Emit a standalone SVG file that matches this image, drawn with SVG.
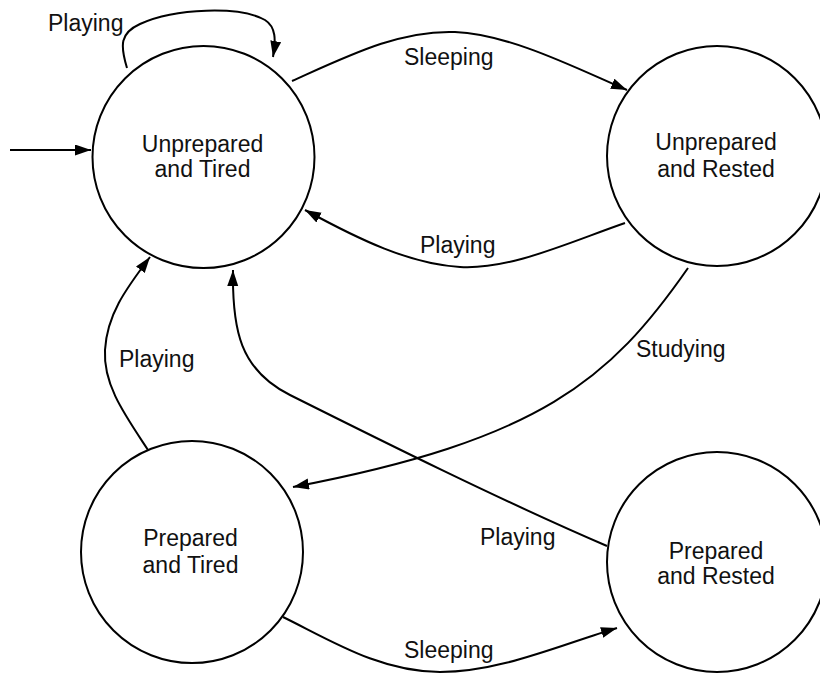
<svg xmlns="http://www.w3.org/2000/svg" width="820" height="673" viewBox="0 0 820 673">
  <defs>
    <marker id="arrow" markerUnits="userSpaceOnUse" markerWidth="17" markerHeight="12" refX="16" refY="5.5" orient="auto">
      <path d="M0,0 L16,5.5 L0,11 z" fill="#000"/>
    </marker>
  </defs>
  <style>
    .state circle { fill: #fff; stroke: #000; stroke-width: 2; }
    .state text, .label { font-family: "Liberation Sans", Arial, sans-serif; font-size: 23px; fill: #111; }
    .state text { text-anchor: middle; }
    .edge { fill: none; stroke: #000; stroke-width: 2; marker-end: url(#arrow); }
  </style>
  <rect width="820" height="673" fill="#fff"/>

  <g id="connectors">
    <!-- start arrow -->
    <path class="edge" d="M10,150 L91,150"/>
    <!-- self loop on Unprepared and Tired -->
    <path class="edge" d="M127,68 C120,45 120,33 140,24 C175,8 240,6 265,20 C276,27 276,40 273,57"/>
    <text class="label" x="48" y="31">Playing</text>
    <!-- Unprepared and Tired -> Unprepared and Rested -->
    <path class="edge" d="M292,81 C350,55 400,30 455,32 C510,34 580,70 627,90"/>
    <text class="label" x="404" y="65">Sleeping</text>
    <!-- Unprepared and Rested -> Unprepared and Tired -->
    <path class="edge" d="M625,223 C570,242 510,270 460,267 C410,264 360,240 305,210"/>
    <text class="label" x="420" y="253">Playing</text>
    <!-- Unprepared and Rested -> Prepared and Tired -->
    <path class="edge" d="M688,268 C610,380 540,440 293,487"/>
    <text class="label" x="636" y="357">Studying</text>
    <!-- Prepared and Rested -> Unprepared and Tired -->
    <path class="edge" d="M607,546 C500,500 380,440 290,395 C240,370 232,330 233,270"/>
    <text class="label" x="480" y="545">Playing</text>
    <!-- Prepared and Tired -> Unprepared and Tired -->
    <path class="edge" d="M148,450 C125,415 103,385 105,350 C107,315 125,290 150,257"/>
    <text class="label" x="119" y="367">Playing</text>
    <!-- Prepared and Tired -> Prepared and Rested -->
    <path class="edge" d="M283,617 C330,640 380,672 440,672 C500,672 560,645 617,628"/>
    <text class="label" x="404" y="658">Sleeping</text>
  </g>

  <g id="unprepared-tired" class="state">
    <circle cx="203.5" cy="157" r="111"/>
    <text x="202.5" y="152">Unprepared</text>
    <text x="202.5" y="177">and Tired</text>
  </g>
  <g id="unprepared-rested" class="state">
    <circle cx="717" cy="156" r="110"/>
    <text x="716" y="150">Unprepared</text>
    <text x="716" y="177">and Rested</text>
  </g>
  <g id="prepared-tired" class="state">
    <circle cx="192" cy="552" r="111"/>
    <text x="190.5" y="546">Prepared</text>
    <text x="190.5" y="573">and Tired</text>
  </g>
  <g id="prepared-rested" class="state">
    <circle cx="717" cy="562" r="110"/>
    <text x="716" y="559">Prepared</text>
    <text x="716" y="584">and Rested</text>
  </g>
</svg>
